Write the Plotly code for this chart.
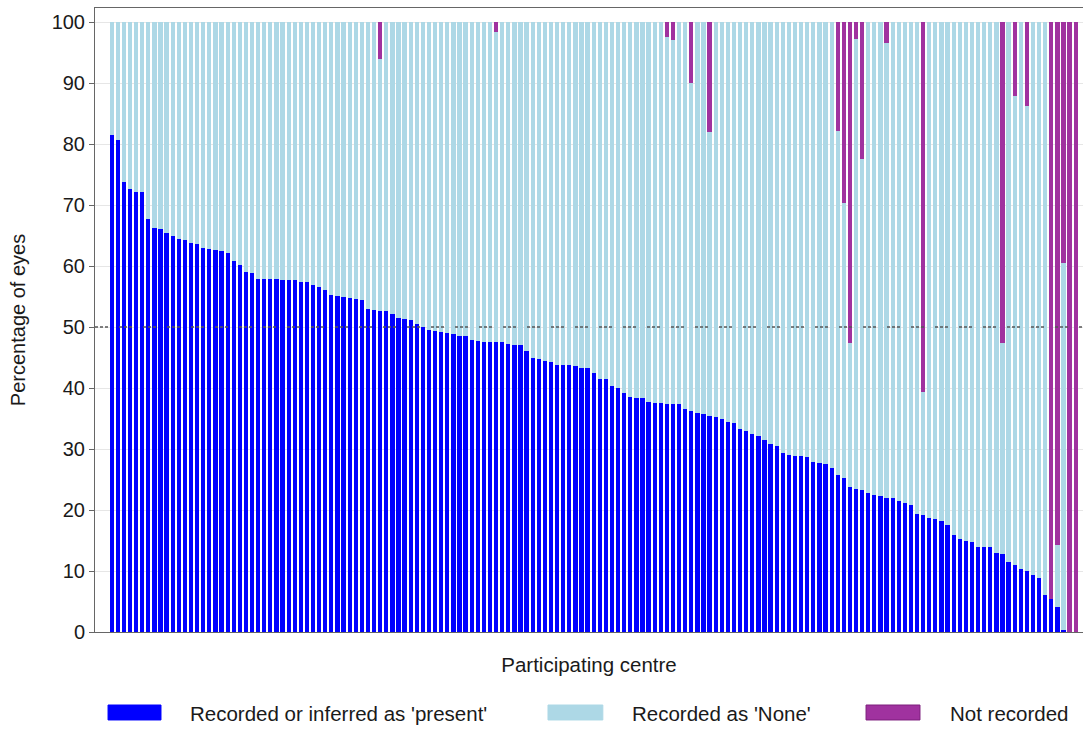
import plotly.graph_objects as go

# Share of eyes per participating centre (percent), sorted by the 'present' share
present = [
    81.4, 80.7, 73.7, 72.7, 72.2, 72.1, 67.7, 66.2, 66.1, 65.4,
    64.9, 64.5, 64.2, 63.7, 63.6, 62.9, 62.8, 62.6, 62.5, 62.1,
    60.8, 60.2, 59.0, 58.9, 57.9, 57.9, 57.8, 57.8, 57.7, 57.7,
    57.7, 57.4, 57.4, 56.9, 56.5, 56.1, 55.2, 55.1, 55.0, 54.8,
    54.6, 54.5, 53.0, 52.8, 52.6, 52.6, 52.1, 51.4, 51.3, 51.1,
    50.5, 50.0, 49.5, 49.4, 49.2, 49.1, 48.9, 48.5, 48.5, 47.9,
    47.7, 47.6, 47.6, 47.6, 47.5, 47.2, 47.1, 47.0, 46.0, 45.0,
    44.8, 44.4, 44.2, 43.8, 43.8, 43.7, 43.6, 43.3, 43.2, 42.5,
    41.5, 41.5, 40.4, 40.0, 39.2, 38.6, 38.4, 38.3, 37.7, 37.6,
    37.5, 37.4, 37.3, 37.3, 36.6, 36.2, 35.9, 35.8, 35.4, 35.2,
    34.9, 34.5, 34.2, 33.3, 33.0, 32.5, 32.1, 31.4, 30.9, 30.5,
    29.3, 29.0, 28.9, 28.9, 28.7, 27.9, 27.7, 27.6, 26.9, 25.8,
    25.2, 23.7, 23.4, 23.3, 22.8, 22.5, 22.3, 22.0, 22.0, 21.5,
    21.2, 20.8, 19.4, 19.2, 18.7, 18.5, 18.2, 17.6, 15.9, 15.3,
    14.9, 14.8, 14.0, 14.0, 13.9, 12.9, 12.8, 11.5, 11.0, 10.4,
    10.0, 9.4, 8.8, 6.1, 5.4, 4.1, 0.4, 0.0, 0.0,
]

recorded_none = [
    18.6, 19.3, 26.3, 27.3, 27.8, 27.9, 32.3, 33.8, 33.9, 34.6,
    35.1, 35.5, 35.8, 36.3, 36.4, 37.1, 37.2, 37.4, 37.5, 37.9,
    39.2, 39.8, 41.0, 41.1, 42.1, 42.1, 42.2, 42.2, 42.3, 42.3,
    42.3, 42.6, 42.6, 43.1, 43.5, 43.9, 44.8, 44.9, 45.0, 45.2,
    45.4, 45.5, 47.0, 47.2, 41.4, 47.4, 47.9, 48.6, 48.7, 48.9,
    49.5, 50.0, 50.5, 50.6, 50.8, 50.9, 51.1, 51.5, 51.5, 52.1,
    52.3, 52.4, 52.4, 50.8, 52.5, 52.8, 52.9, 53.0, 54.0, 55.0,
    55.2, 55.6, 55.8, 56.2, 56.2, 56.3, 56.4, 56.7, 56.8, 57.5,
    58.5, 58.5, 59.6, 60.0, 60.8, 61.4, 61.6, 61.7, 62.3, 62.4,
    62.5, 60.1, 59.8, 62.7, 63.4, 53.8, 64.1, 64.2, 46.6, 64.8,
    65.1, 65.5, 65.8, 66.7, 67.0, 67.5, 67.9, 68.6, 69.1, 69.5,
    70.7, 71.0, 71.1, 71.1, 71.3, 72.1, 72.3, 72.4, 73.1, 56.3,
    45.1, 23.7, 73.9, 54.2, 77.2, 77.5, 77.7, 74.5, 78.0, 78.5,
    78.8, 79.2, 80.6, 20.2, 81.3, 81.5, 81.8, 82.4, 84.1, 84.7,
    85.1, 85.2, 86.0, 86.0, 86.1, 87.1, 34.5, 88.5, 76.8, 89.6,
    76.2, 90.6, 91.2, 93.9, 0.0, 10.2, 60.1, 0.0, 0.0,
]

not_recorded = [
    0, 0, 0, 0, 0, 0, 0, 0, 0, 0,
    0, 0, 0, 0, 0, 0, 0, 0, 0, 0,
    0, 0, 0, 0, 0, 0, 0, 0, 0, 0,
    0, 0, 0, 0, 0, 0, 0, 0, 0, 0,
    0, 0, 0, 0, 6.0, 0, 0, 0, 0, 0,
    0, 0, 0, 0, 0, 0, 0, 0, 0, 0,
    0, 0, 0, 1.6, 0, 0, 0, 0, 0, 0,
    0, 0, 0, 0, 0, 0, 0, 0, 0, 0,
    0, 0, 0, 0, 0, 0, 0, 0, 0, 0,
    0, 2.5, 2.9, 0, 0, 10.0, 0, 0, 18.0, 0,
    0, 0, 0, 0, 0, 0, 0, 0, 0, 0,
    0, 0, 0, 0, 0, 0, 0, 0, 0, 17.9,
    29.7, 52.6, 2.7, 22.5, 0, 0, 0, 3.5, 0, 0,
    0, 0, 0, 60.6, 0, 0, 0, 0, 0, 0,
    0, 0, 0, 0, 0, 0, 52.7, 0, 12.2, 0,
    13.8, 0, 0, 0, 94.6, 85.7, 39.5, 100.0, 100.0,
]

centres = list(range(1, len(present) + 1))
y_ticks = [0, 10, 20, 30, 40, 50, 60, 70, 80, 90, 100]

series_names = ["Recorded or inferred as 'present'", "Recorded as 'None'", "Not recorded"]
BLUE = "#0000FF"
LIGHT = "#ADD8E6"
PURPLE = "#A0329F"
FONT = "Liberation Sans, Arial, sans-serif"
TEXT = "#1a1a1a"

fig = go.Figure()
fig.add_bar(x=centres, y=present, name=series_names[0], marker=dict(color=BLUE, line=dict(width=0)))
fig.add_bar(x=centres, y=recorded_none, name=series_names[1], marker=dict(color=LIGHT, line=dict(width=0)))
fig.add_bar(x=centres, y=not_recorded, name=series_names[2], marker=dict(color=PURPLE, line=dict(width=0)))

# 50% reference line
fig.add_shape(type="line", xref="paper", x0=0, x1=1, yref="y", y0=50, y1=50,
              line=dict(color="rgba(85,85,85,0.75)", width=2, dash="3px,2px,3px,2px,3px,11px"),
              layer="above")

# Legend drawn below the plot with wide swatches
legend_items = [
    (series_names[0], BLUE, BLUE, 0.0132, 0.0668, 0.0941),
    (series_names[1], LIGHT, LIGHT, 0.4585, 0.5140, 0.5415),
    (series_names[2], PURPLE, "#7d1f7d", 0.7804, 0.8350, 0.8634),
]
for label, fill, edge, sx0, sx1, tx in legend_items:
    fig.add_shape(type="rect", xref="paper", yref="paper", x0=sx0, x1=sx1, y0=-0.141, y1=-0.117,
                  fillcolor=fill, line=dict(color=edge, width=1))
    fig.add_annotation(xref="paper", yref="paper", x=tx, y=-0.130, text=label, showarrow=False,
                       xanchor="left", yanchor="middle", font=dict(family=FONT, size=20.5, color=TEXT))

fig.update_layout(
    width=1083, height=729,
    barmode="stack", bargap=0.3,
    showlegend=False,
    plot_bgcolor="white", paper_bgcolor="white",
    margin=dict(l=95, r=0, t=8, b=97),
    font=dict(family=FONT, size=20, color=TEXT),
)
fig.update_xaxes(
    range=[-1.74, 160.2], showticklabels=False, ticks="", showgrid=False, zeroline=False,
    showline=True, linecolor="#666666", linewidth=1, mirror=True,
    title=dict(text="Participating centre", standoff=25, font=dict(family=FONT, size=20.5, color=TEXT)),
)
fig.update_yaxes(
    range=[0, 102.3], tickvals=y_ticks, ticks="outside", ticklen=5, tickcolor="#666666",
    showgrid=True, gridcolor="#e6e6e6", gridwidth=1, zeroline=False,
    showline=True, linecolor="#666666", linewidth=1,
    tickfont=dict(family=FONT, size=20, color=TEXT),
    title=dict(text="Percentage of eyes", standoff=20, font=dict(family=FONT, size=20, color=TEXT)),
)

fig.write_html("out.html")
